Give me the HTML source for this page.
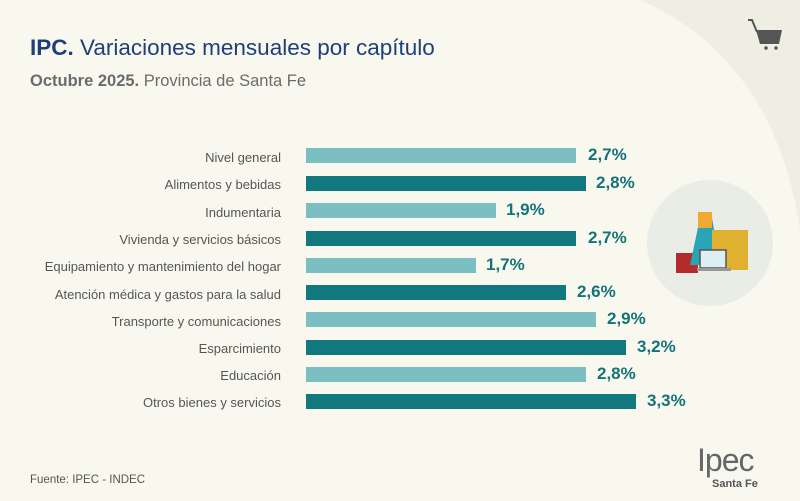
<!DOCTYPE html>
<html><head><meta charset="utf-8"><style>
body{margin:0;}
#c{position:relative;width:800px;height:501px;background:#f9f8ef;overflow:hidden;font-family:"Liberation Sans",sans-serif;}
.lbl{position:absolute;right:519px;font-size:13px;color:#555;white-space:nowrap;}
.bar{position:absolute;left:306px;height:15px;}
.val{position:absolute;font-size:17px;font-weight:bold;color:#137378;}
</style></head><body><div id="c">
<svg width="800" height="501" style="position:absolute;left:0;top:0">
<path d="M640 0 Q775 60 800 230 L800 0 Z" fill="#eeeee3"/>
<circle cx="710" cy="243" r="63" fill="#e9ede6"/>
<rect x="676" y="253" width="22" height="20" fill="#b52a2a"/>
<path d="M700 218 L712 218 L720 265 L690 265 Z" fill="#2aa5b5"/>
<rect x="698" y="212" width="14" height="16" fill="#f0a830"/>
<rect x="712" y="230" width="36" height="40" fill="#e0b030"/>
<rect x="700" y="250" width="26" height="18" fill="#ddeef5" stroke="#555" stroke-width="1.5"/>
<rect x="697" y="268" width="34" height="3" fill="#999"/>
<g fill="#555"><path d="M756 30 L782 30 L779 44 L760 44 Z"/><circle cx="766" cy="48" r="1.8"/><circle cx="776" cy="48" r="1.8"/><path d="M748 20 L752 20 L757 32" stroke="#555" stroke-width="2" fill="none"/></g>
</svg>
<div style="position:absolute;left:30px;top:35px;font-size:22.5px;color:#1f3f7a;"><b>IPC.</b> Variaciones mensuales por capítulo</div>
<div style="position:absolute;left:30px;top:72px;font-size:16.5px;color:#6b6b6b;"><b>Octubre 2025.</b> Provincia de Santa Fe</div>

<div class="lbl" style="top:150px">Nivel general</div><div class="bar" style="top:148px;width:270px;background:#7cbfc3"></div><div class="val" style="left:588px;top:145px">2,7%</div>
<div class="lbl" style="top:177px">Alimentos y bebidas</div><div class="bar" style="top:176px;width:280px;background:#11787e"></div><div class="val" style="left:596px;top:173px">2,8%</div>
<div class="lbl" style="top:205px">Indumentaria</div><div class="bar" style="top:203px;width:190px;background:#7cbfc3"></div><div class="val" style="left:506px;top:200px">1,9%</div>
<div class="lbl" style="top:232px">Vivienda y servicios básicos</div><div class="bar" style="top:231px;width:270px;background:#11787e"></div><div class="val" style="left:588px;top:228px">2,7%</div>
<div class="lbl" style="top:259px">Equipamiento y mantenimiento del hogar</div><div class="bar" style="top:258px;width:170px;background:#7cbfc3"></div><div class="val" style="left:486px;top:255px">1,7%</div>
<div class="lbl" style="top:287px">Atención médica y gastos para la salud</div><div class="bar" style="top:285px;width:260px;background:#11787e"></div><div class="val" style="left:577px;top:282px">2,6%</div>
<div class="lbl" style="top:314px">Transporte y comunicaciones</div><div class="bar" style="top:312px;width:290px;background:#7cbfc3"></div><div class="val" style="left:607px;top:309px">2,9%</div>
<div class="lbl" style="top:341px">Esparcimiento</div><div class="bar" style="top:340px;width:320px;background:#11787e"></div><div class="val" style="left:637px;top:337px">3,2%</div>
<div class="lbl" style="top:368px">Educación</div><div class="bar" style="top:367px;width:280px;background:#7cbfc3"></div><div class="val" style="left:597px;top:364px">2,8%</div>
<div class="lbl" style="top:395px">Otros bienes y servicios</div><div class="bar" style="top:394px;width:330px;background:#11787e"></div><div class="val" style="left:647px;top:391px">3,3%</div>

<div style="position:absolute;left:30px;top:474px;font-size:11.5px;color:#555;">Fuente: IPEC - INDEC</div>
<div style="position:absolute;left:697px;top:442px;font-size:32px;color:#666;letter-spacing:-1px;">Ipec</div>
<div style="position:absolute;left:712px;top:478px;font-size:11px;font-weight:bold;color:#555;">Santa Fe</div>
</div></body></html>
